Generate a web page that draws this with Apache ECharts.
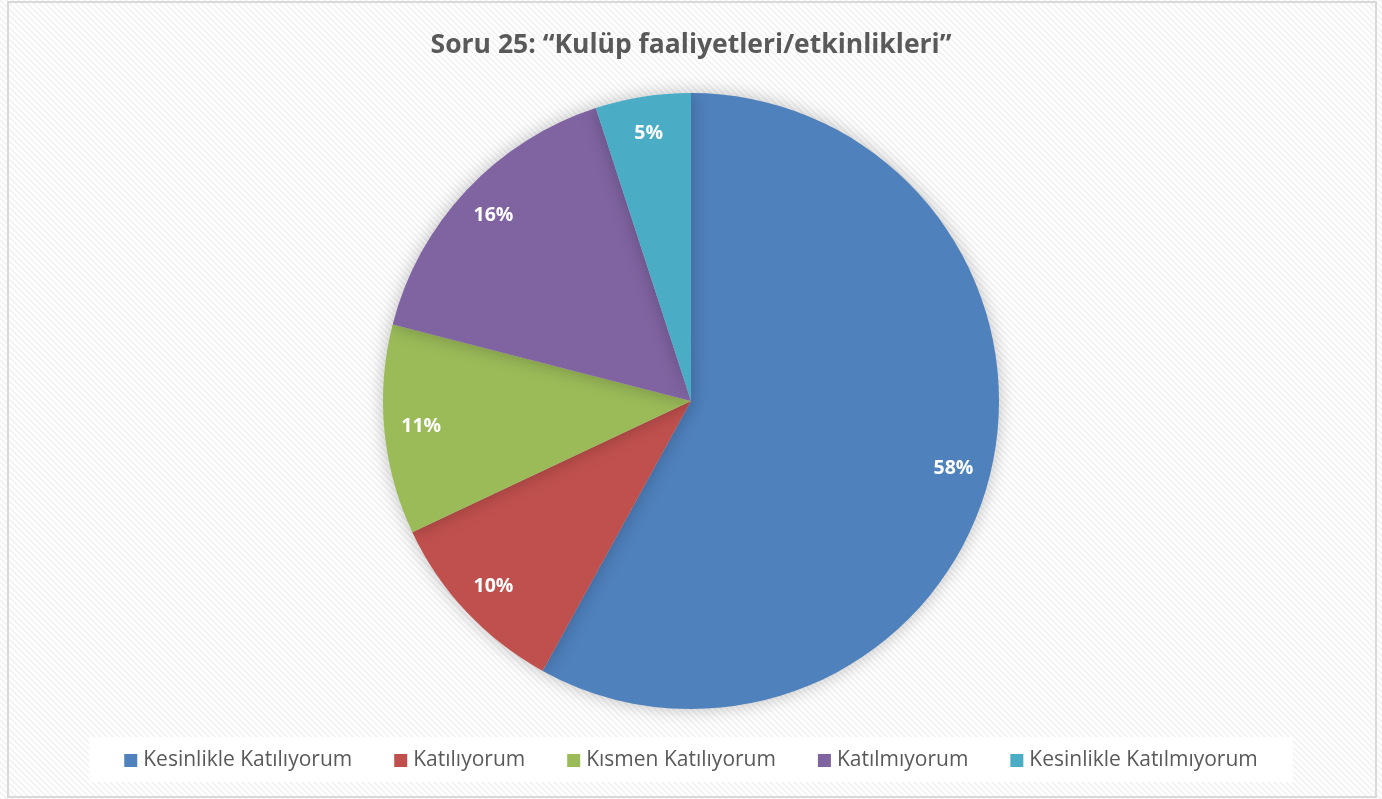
<!DOCTYPE html>
<html>
<head>
<meta charset="utf-8">
<script src="https://cdn.jsdelivr.net/npm/echarts@6/dist/echarts.min.js"></script>
<style>
  html, body { margin: 0; padding: 0; background: #fff; }
  #frame { position: absolute; left: 7px; top: 1px; width: 1366px; height: 793px; border: 2px solid #d9d9d9; pointer-events: none; z-index: 2; }
  #myChart { position: absolute; left: 0; top: 0; width: 1382px; height: 799px; z-index: 1; }
</style>
</head>
<body>
<div id="frame"></div>
<div id="myChart"></div>
<script>
// veriler
var categories = ['Kesinlikle Katılıyorum', 'Katılıyorum', 'Kısmen Katılıyorum', 'Katılmıyorum', 'Kesinlikle Katılmıyorum']
var percents = [58, 10, 11, 16, 5]
var colors = ['#4F81BD', '#C0504D', '#9BBB59', '#8064A2', '#4BACC6']

// arka plan çizgili desen
function makePattern() {
  var c = document.createElement('canvas')
  c.width = 6
  c.height = 6
  var ctx = c.getContext('2d')
  ctx.fillStyle = '#ffffff'
  ctx.fillRect(0, 0, 6, 6)
  ctx.strokeStyle = '#f0f0f0'
  ctx.lineWidth = 1.5
  ctx.beginPath()
  ctx.moveTo(-1, -1); ctx.lineTo(7, 7)
  ctx.moveTo(-4, 2); ctx.lineTo(4, 10)
  ctx.moveTo(2, -4); ctx.lineTo(10, 4)
  ctx.stroke()
  return c
}

var pieData = categories.map(function (name, i) {
  return { name: name, value: percents[i], itemStyle: { color: colors[i] } }
})

var chartDom = document.getElementById('myChart')
var myChart = echarts.init(chartDom)
var option = {
  backgroundColor: { image: makePattern(), repeat: 'repeat' },
  animation: false,
  title: {
    text: 'Soru 25: “Kulüp faaliyetleri/etkinlikleri”',
    left: 'center',
    top: 27,
    textStyle: { fontFamily: 'Open Sans', fontSize: 26.5, fontWeight: 'bold', color: '#595959' }
  },
  legend: {
    data: categories,
    left: 'center',
    top: 737,
    padding: [13, 35, 11, 35],
    backgroundColor: '#ffffff',
    itemWidth: 13,
    itemHeight: 13,
    itemGap: 42,
    icon: 'rect',
    textStyle: { fontFamily: 'Open Sans', fontSize: 21, color: '#595959', padding: [0, 0, 0, 1] }
  },
  series: [
    {
      name: 'Soru 25',
      type: 'pie',
      center: [691, 401],
      radius: 308,
      startAngle: 90,
      clockwise: true,
      label: { show: false },
      labelLine: { show: false },
      itemStyle: {
        shadowBlur: 18,
        shadowColor: 'rgba(0,0,0,0.25)'
      },
      emphasis: { disabled: true },
      data: pieData
    },
    {
      // yüzde etiketleri
      name: 'etiket',
      type: 'pie',
      center: [691, 401],
      radius: [228, 308],
      startAngle: 90,
      clockwise: true,
      silent: true,
      legendHoverLink: false,
      itemStyle: { color: 'rgba(0,0,0,0)' },
      label: {
        show: true,
        position: 'inside',
        formatter: function (p) { return p.value + '%' },
        fontFamily: 'Open Sans',
        fontSize: 19.5,
        fontWeight: 'bold',
        color: '#ffffff'
      },
      labelLine: { show: false },
      emphasis: { disabled: true },
      data: percents.map(function (v, i) { return { name: categories[i] + ' ', value: v } })
    }
  ]
}
myChart.setOption(option)
</script>
</body>
</html>
